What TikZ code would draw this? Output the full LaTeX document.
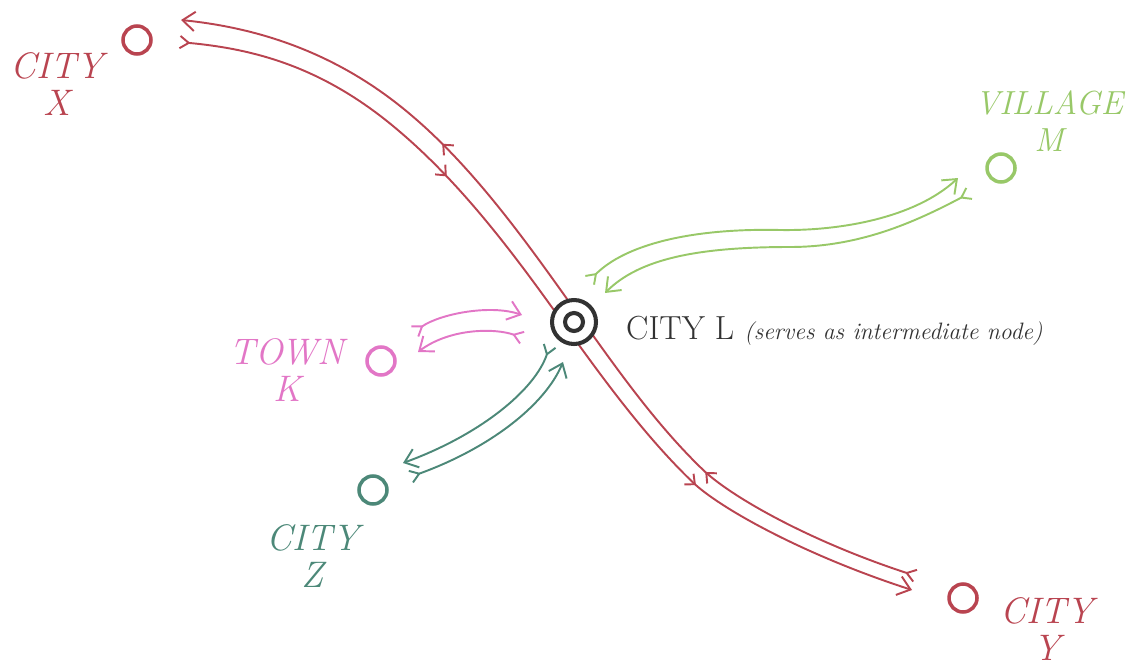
\documentclass[tikz,border=0pt]{standalone}
\usepackage{xcolor}
\usepackage{tikz}
\usetikzlibrary{arrows.meta, positioning, decorations.markings}

\definecolor{cityred}{RGB}{185,68,80}
\definecolor{villgreen}{RGB}{152,200,104}
\definecolor{townpink}{RGB}{226,118,198}
\definecolor{cityteal}{RGB}{76,136,120}
\definecolor{hubgray}{RGB}{50,50,50}

\tikzset{
  route/.style={line width=1.1pt,
    arrows={Straight Barb[reversed,length=5pt,width=7pt]-Straight Barb[length=7pt,width=11pt]}},
  midtips/.style 2 args={postaction={decorate}, decoration={markings,
    mark=at position #1 with {\arrow{Straight Barb[length=4.5pt,width=8pt]}},
    mark=at position #2 with {\arrow{Straight Barb[length=4.5pt,width=8pt]}}}}
}

\begin{document}
\begin{tikzpicture}[
    x=0.02cm, y=-0.02cm,
    town/.style={circle, line width=2pt, minimum size=0.56cm, inner sep=0pt, fill=white},
    hub/.style={circle, draw=hubgray, line width=2.3pt, inner sep=0pt},
    placename/.style={font=\itshape\fontsize{21}{21.5}\selectfont, align=center}
    ]
    \useasboundingbox (0,0) rectangle (1131,669);

    % Ciudades
    \node[town, draw=cityred] (cx) at (137,40) {};
    \node[town, draw=cityred] (cy) at (963,598) {};
    \node[town, draw=townpink] (ck) at (381,361) {};
    \node[town, draw=cityteal] (cz) at (373,490) {};
    \node[town, draw=villgreen] (cm) at (1001,168) {};

    \node[placename, text=cityred] (lx) at (57,84) {CITY\\X};
    \node[placename, text=cityred] (ly) at (1047,629) {CITY\\Y};
    \node[placename, text=townpink] (lk) at (287,370) {TOWN\\K};
    \node[placename, text=cityteal] (lz) at (313,556) {CITY\\Z};
    \node[placename, text=villgreen, font=\itshape\fontsize{19}{21.5}\selectfont] (lm) at (1049,121) {VILLAGE\\M};

    % Extremos de las rutas
    \coordinate (xy-s) at (179,42);
    \coordinate (xy-e) at (912,590);
    \coordinate (yx-s) at (916,576);
    \coordinate (yx-e) at (181,20);
    \coordinate (lm-s) at (589,281);
    \coordinate (lm-e) at (958,178);
    \coordinate (ml-s) at (970,193);
    \coordinate (ml-e) at (605,293);
    \coordinate (kl-s) at (414,332);
    \coordinate (kl-e) at (522,315);
    \coordinate (lk-s) at (523,338);
    \coordinate (lk-e) at (418,352);
    \coordinate (lz-s) at (550,345);
    \coordinate (lz-e) at (403,463);
    \coordinate (zl-s) at (410,477);
    \coordinate (zl-e) at (563,362);

    % Rutas
    \draw[route, cityred, midtips={0.325}{0.745}] (xy-s)
        .. controls (254,49) and (323.5,66.6) .. (398.5,130.6)
        .. controls (463.5,185.6) and (517,258) .. (566,327)
        .. controls (605.6,382.3) and (647.3,439) .. (694.6,484)
        .. controls (724.2,510.7) and (807.2,556.1) .. (xy-e);
    \draw[route, cityred, midtips={0.248}{0.69}] (yx-s)
        .. controls (811.8,541.9) and (735,498.9) .. (705.4,472.1)
        .. controls (658.1,427.2) and (619.4,372.5) .. (579.9,317.1)
        .. controls (530.9,248.1) and (476.5,170.4) .. (411.5,115.4)
        .. controls (336.5,51.4) and (256.1,27.6) .. (yx-e);

    \draw[route, villgreen] (lm-s) .. controls (625,245) and (690,228) .. (780,230)
        .. controls (840,231) and (915,218) .. (lm-e);
    \draw[route, villgreen] (ml-s) .. controls (915,222) and (860,247) .. (790,247)
        .. controls (700,247) and (640,258) .. (ml-e);

    \draw[route, townpink] (kl-s) .. controls (440,314) and (490,304) .. (kl-e);
    \draw[route, townpink] (lk-s) .. controls (495,328) and (450,328) .. (lk-e);

    \draw[route, cityteal] (lz-s) .. controls (535,390) and (480,435) .. (lz-e);
    \draw[route, cityteal] (zl-s) .. controls (490,448) and (545,405) .. (zl-e);

    % Nodo intermedio
    \node[hub, fill=white, minimum size=0.88cm] (cl) at (574,322) {};
    \node[hub, minimum size=0.36cm] (cli) at (cl) {};
    \node[anchor=base west, text=hubgray, font=\fontsize{19}{21}\selectfont] (ll) at (620,339)
        {CITY L {\itshape\fontsize{13.5}{15}\selectfont (serves as intermediate node)}};

\end{tikzpicture}
\end{document}
